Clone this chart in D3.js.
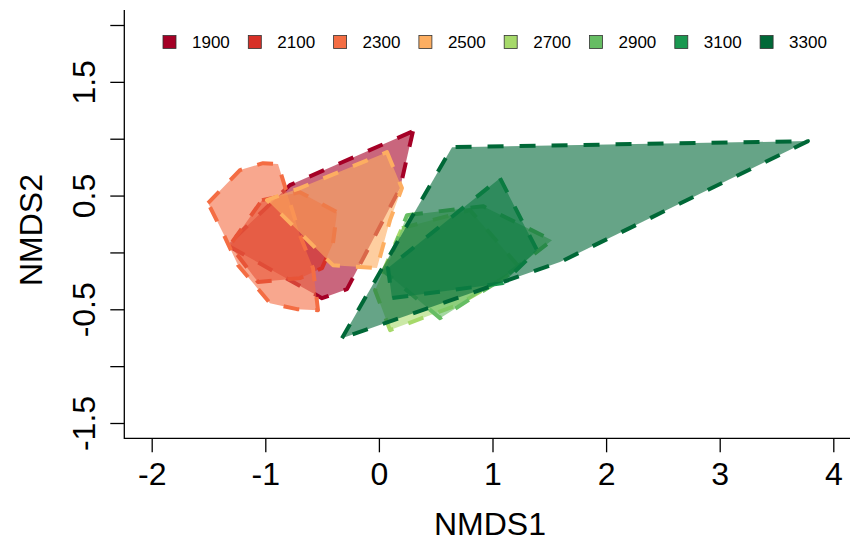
<!DOCTYPE html>
<html><head><meta charset="utf-8">
<script src="https://cdn.jsdelivr.net/npm/d3@7"></script>
<style>body{margin:0;background:#fff}svg{display:block}text{font-family:"Liberation Sans",Arial,sans-serif}</style>
</head><body><svg id="c" width="850" height="546"></svg>
<script>
const groups = ["1900","2100","2300","2500","2700","2900","3100","3300"];
const colors = ["#A50026","#D73027","#F46D43","#FDAE61","#A6D96A","#66BD63","#1A9850","#006837"];
const hull1900 = [[0.300,1.066],[0.186,0.565],[-0.281,-0.323],[-0.501,-0.402],[-1.337,0.064],[-0.783,0.592]];
const hull2100 = [[-1.029,0.460],[-0.695,0.530],[-0.369,0.354],[-0.404,0.082],[-0.501,-0.138],[-0.695,-0.226],[-1.064,-0.261],[-1.311,0.064]];
const hull2300 = [[-1.504,0.434],[-1.223,0.724],[-1.020,0.785],[-0.888,0.777],[-0.695,0.152],[-0.580,-0.138],[-0.536,-0.508],[-0.721,-0.499],[-0.959,-0.446],[-1.240,-0.112],[-1.372,0.170]];
const hull2500 = [[0.071,0.882],[0.203,0.566],[0.098,0.284],[-0.017,-0.138],[-0.404,-0.112],[-0.985,0.460],[-0.695,0.566]];
const hull2700 = [[0.203,0.214],[0.802,0.372],[1.242,-0.138],[0.688,-0.464],[0.098,-0.683],[-0.034,-0.332]];
const hull2900 = [[0.247,0.328],[0.916,0.407],[1.524,0.108],[1.066,-0.245],[0.538,-0.578],[0.054,-0.173]];
const hull3100 = [[1.066,0.653],[1.392,0.020],[1.092,-0.270],[0.115,-0.402],[0.080,-0.138]];
const hull3300 = [[-0.325,-0.754],[0.644,0.926],[3.777,0.979],[1.594,-0.085]];
const hulls = [hull1900,hull2100,hull2300,hull2500,hull2700,hull2900,hull3100,hull3300];
const xTicks = [-2,-1,0,1,2,3,4];
const yTicks = [-1.5,-1,-0.5,0,0.5,1,1.5,2];
const yLabelled = [-1.5,-0.5,0.5,1.5];

const svg = d3.select("#c");
const x = d3.scaleLinear().domain([-2,4]).range([151.7,833.3]);
const y = d3.scaleLinear().domain([-1.5,2]).range([423,25]);
const axLeft = 124.3, axBottom = 438.3, axTop = 10, axRight = 850;
const FS = 32;

// polygons
const line = d3.line().x(d=>x(d[0])).y(d=>y(d[1])).curve(d3.curveLinearClosed);
svg.append("g").selectAll("path").data(hulls).join("path")
  .attr("d", line)
  .attr("fill", (d,i)=>colors[i]).attr("fill-opacity",0.6)
  .attr("stroke", (d,i)=>colors[i]).attr("stroke-width",4)
  .attr("stroke-dasharray","16,16").attr("stroke-linejoin","round");

// axes
const xa = svg.append("g").attr("transform",`translate(0,${axBottom})`)
  .call(d3.axisBottom(x).tickValues(xTicks).tickSize(14).tickPadding(10).tickFormat(d=>String(d)));
xa.select(".domain").remove();
xa.selectAll("line").attr("stroke","#000").attr("stroke-width",1.3);
xa.selectAll("text").attr("font-size",FS).attr("fill","#000").attr("font-family","Liberation Sans, Arial, sans-serif");

const ya = svg.append("g").attr("transform",`translate(${axLeft},0)`)
  .call(d3.axisLeft(y).tickValues(yTicks).tickSize(14)
    .tickFormat(d=> yLabelled.includes(d) ? d.toFixed(1) : ""));
ya.select(".domain").remove();
ya.selectAll("line").attr("stroke","#000").attr("stroke-width",1.3);
ya.selectAll("text").attr("font-size",FS).attr("fill","#000").attr("font-family","Liberation Sans, Arial, sans-serif")
  .attr("transform","rotate(-90)").attr("x",0).attr("y",-29.5).attr("dy",null)
  .attr("text-anchor","middle");

svg.append("path").attr("d",`M${axLeft},${axTop}V${axBottom}H${axRight}`).attr("fill","none").attr("stroke","#000").attr("stroke-width",1.3);

svg.append("text").attr("x",490).attr("y",535).attr("text-anchor","middle").attr("font-size",FS).text("NMDS1");
svg.append("text").attr("transform","translate(41.5,230) rotate(-90)").attr("text-anchor","middle").attr("font-size",FS).text("NMDS2");

// legend
const lg = svg.append("g").selectAll("g").data(groups).join("g")
  .attr("transform",(d,i)=>`translate(${169.5+i*85.3},42)`);
lg.append("rect").attr("x",-6.5).attr("y",-6.5).attr("width",13).attr("height",13)
  .attr("fill",(d,i)=>colors[i]).attr("stroke","#333").attr("stroke-width",0.8);
lg.append("text").attr("x",22.5).attr("y",6).attr("font-size",17).text(d=>d);
</script></body></html>
